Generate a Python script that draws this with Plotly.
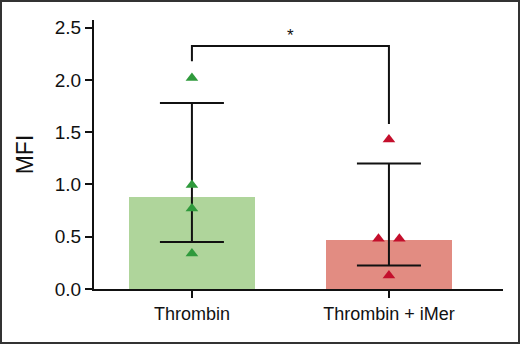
import plotly.graph_objects as go

categories = ["Thrombin", "Thrombin + iMer"]
bar_means = [0.88, 0.47]
err_upper = [1.78, 1.20]
err_lower = [0.45, 0.225]
points_thrombin = [2.02, 0.995, 0.77, 0.34]
points_thrombin_x_offset = [0, 0, 0, 0]
points_imer = [1.43, 0.48, 0.48, 0.13]
points_imer_x_offset = [0, -0.053, 0.053, 0]
bracket_top = 2.325
bracket_left_end = 2.18
bracket_right_end = 1.58
sig_label = "*"
y_ticks = [0.0, 0.5, 1.0, 1.5, 2.0, 2.5]

bar_colors = ["#afd59b", "#e28c82"]
pt_colors = ["#2f9a3c", "#c40f2c"]

W, H = 520, 344
ml, mr, mt, mb = 94, 17, 20, 55
pw, ph = W - ml - mr, H - mt - mb

font = "Liberation Sans, Arial, sans-serif"

xs = [0, 1]
fig = go.Figure()
fig.add_trace(go.Bar(x=xs, y=bar_means, width=0.64, marker=dict(color=bar_colors, line=dict(width=0)),
                     showlegend=False, hoverinfo="skip"))
fig.add_trace(go.Scatter(
    x=xs, y=bar_means, mode="markers", marker=dict(size=1, color="rgba(0,0,0,0)"),
    error_y=dict(type="data", symmetric=False,
                 array=[u - m for u, m in zip(err_upper, bar_means)],
                 arrayminus=[m - l for l, m in zip(err_lower, bar_means)],
                 color="#111", thickness=2, width=32),
    showlegend=False, hoverinfo="skip"))
fig.add_trace(go.Scatter(
    x=[0 + o for o in points_thrombin_x_offset], y=points_thrombin, mode="markers",
    marker=dict(symbol="triangle-up", size=11, color=pt_colors[0]), showlegend=False))
fig.add_trace(go.Scatter(
    x=[1 + o for o in points_imer_x_offset], y=points_imer, mode="markers",
    marker=dict(symbol="triangle-up", size=11, color=pt_colors[1]), showlegend=False))

# significance bracket
fig.add_trace(go.Scatter(
    x=[0, 0, 1, 1], y=[bracket_left_end, bracket_top, bracket_top, bracket_right_end],
    mode="lines", line=dict(color="#111", width=2), showlegend=False, hoverinfo="skip"))
fig.add_annotation(x=0.5, y=bracket_top, text=sig_label, showarrow=False, yshift=11,
                   font=dict(family=font, size=17, color="#111"))

# outer frame
fig.add_shape(type="rect", xref="paper", yref="paper",
              x0=-(ml - 1) / pw, x1=1 + (mr - 1) / pw, y0=-(mb - 1) / ph, y1=1 + (mt - 1) / ph,
              line=dict(color="#333", width=2), layer="above")

fig.update_layout(
    width=W, height=H, margin=dict(l=ml, r=mr, t=mt, b=mb),
    plot_bgcolor="white", paper_bgcolor="white",
    font=dict(family=font, size=19, color="#111"),
    bargap=0,
    xaxis=dict(range=[-0.497, 1.579], tickvals=xs, ticktext=categories, showline=True,
               linecolor="#111", linewidth=2, ticks="outside", ticklen=7, tickwidth=2,
               tickcolor="#111", showgrid=False, zeroline=False, fixedrange=True,
               tickfont=dict(family=font, size=18, color="#111")),
    yaxis=dict(range=[0, 2.574], tickvals=y_ticks, tickformat=".1f", showline=True,
               linecolor="#111", linewidth=2, ticks="outside", ticklen=7, tickwidth=2,
               tickcolor="#111", showgrid=False, zeroline=False, fixedrange=True,
               tickfont=dict(family=font, size=19, color="#111"),
               title=dict(text="MFI", standoff=15)),
)
fig.write_html("out.html", config={"displayModeBar": False},
               post_script="document.body.style.margin='0';document.body.style.padding='0';")
